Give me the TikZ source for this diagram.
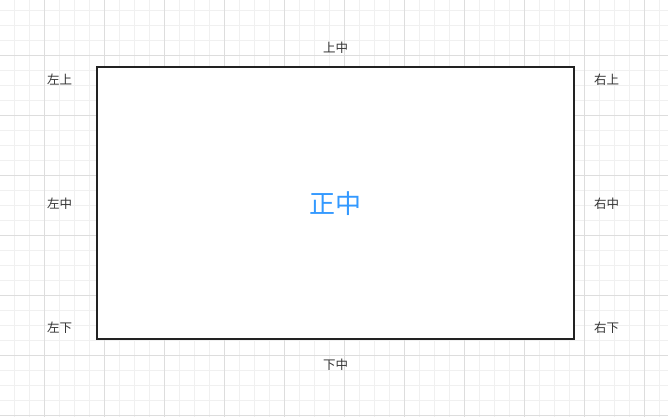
\documentclass[tikz,border=0pt]{standalone}
\usepackage{fontspec}
\newfontfamily\cjk{Noto Sans CJK SC}
\definecolor{minorgrid}{HTML}{F0F0F0}
\definecolor{majorgrid}{HTML}{DDDDDD}
\definecolor{framec}{HTML}{222222}
\definecolor{labelc}{HTML}{333333}
\definecolor{centerc}{HTML}{3399FF}
\tikzset{
  lbl/.style={font=\cjk\fontsize{12.5}{12.5}\selectfont, text=labelc, inner sep=0pt},
  mainlbl/.style={font=\cjk\fontsize{26}{26}\selectfont, text=centerc, inner sep=0pt},
  frame/.style={draw=framec, line width=1.6pt, fill=white},
}
\begin{document}
\begin{tikzpicture}[x=1pt,y=-1pt]
\useasboundingbox (0,0) rectangle (668,417);
\fill[white] (0,0) rectangle (668,417);
\foreach \i in {0,...,44} {
  \pgfmathsetmacro\xx{14+15*\i}
  \draw[minorgrid, line width=0.8pt] (\xx,0) -- (\xx,417);
}
\foreach \i in {0,...,27} {
  \pgfmathsetmacro\yy{10+15*\i}
  \draw[minorgrid, line width=0.8pt] (0,\yy) -- (668,\yy);
}
\foreach \i in {0,...,10} {
  \pgfmathsetmacro\xx{44+60*\i}
  \draw[majorgrid, line width=0.8pt] (\xx,0) -- (\xx,417);
}
\foreach \i in {0,...,6} {
  \pgfmathsetmacro\yy{55+60*\i}
  \draw[majorgrid, line width=0.8pt] (0,\yy) -- (668,\yy);
}
\node[frame, minimum width=477pt, minimum height=272pt, inner sep=0pt] (box) at (335.5,203) {};
\node[mainlbl] (c) at (335.5,204) {正中};
\node[lbl] (tl) at (59.5,80) {左上};
\node[lbl] (tc) at (335.5,48) {上中};
\node[lbl] (tr) at (606.5,80) {右上};
\node[lbl] (ml) at (59.5,204) {左中};
\node[lbl] (mr) at (606.5,204) {右中};
\node[lbl] (bl) at (59.5,328) {左下};
\node[lbl] (bc) at (335.5,365) {下中};
\node[lbl] (br) at (606.5,328) {右下};
\end{tikzpicture}
\end{document}
